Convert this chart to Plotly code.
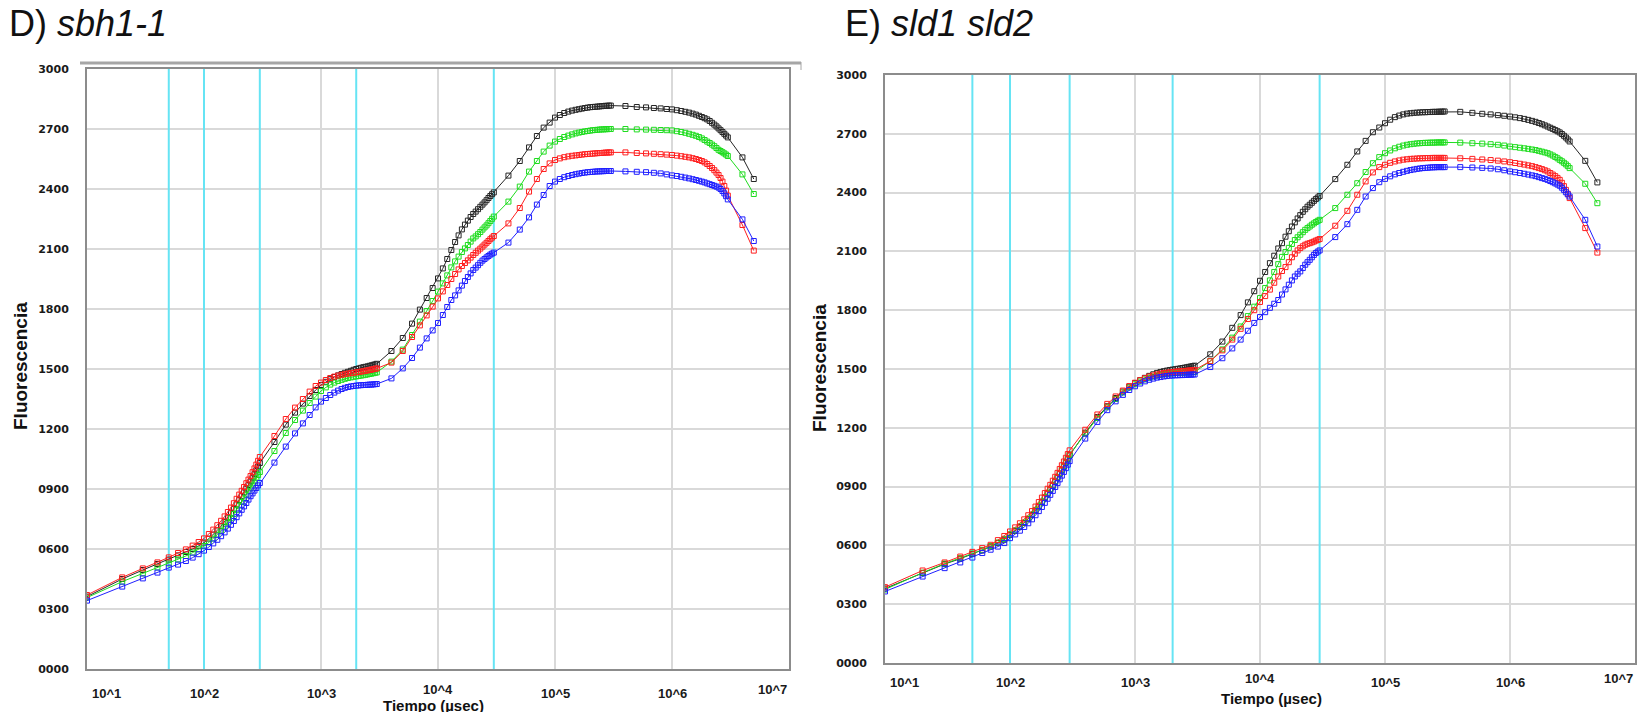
import math
import plotly.graph_objects as go

# ---------------- data ----------------
TIEMPO_US = [10, 20, 30, 40, 50, 60, 70, 80, 90, 100, 110, 120, 130, 140, 150, 160, 170, 180, 190, 200,
             210, 220, 230, 240, 250, 260, 270, 280, 290, 300,
             400, 500, 600, 700, 800, 900, 1000, 1100, 1200, 1300, 1400, 1500, 1600, 1700, 1800, 1900, 2000,
             2100, 2200, 2300, 2400, 2500, 2600, 2700, 2800, 2900, 3000,
             4000, 5000, 6000, 7000, 8000, 9000, 10000, 11000, 12000, 13000, 14000, 15000, 16000, 17000, 18000,
             19000, 20000, 21000, 22000, 23000, 24000, 25000, 26000, 27000, 28000, 29000, 30000,
             40000, 50000, 60000, 70000, 80000, 90000, 100000, 110000, 120000, 130000, 140000, 150000, 160000,
             170000, 180000, 190000, 200000, 210000, 220000, 230000, 240000, 250000, 260000, 270000, 280000,
             290000, 300000,
             400000, 500000, 600000, 700000, 800000, 900000, 1000000, 1100000, 1200000, 1300000, 1400000,
             1500000, 1600000, 1700000, 1800000, 1900000, 2000000, 2100000, 2200000, 2300000, 2400000,
             2500000, 2600000, 2700000, 2800000, 2900000, 3000000,
             4000000, 5000000]

# Panel D) sbh1-1
D_black = [362, 450, 495, 525, 547, 568, 585, 600, 616, 632, 652, 672, 693, 714, 735, 757, 779, 801, 823, 845,
           864, 883, 902, 920, 938, 957, 975, 994, 1012, 1030,
           1135, 1222, 1282, 1327, 1365, 1395, 1420, 1436, 1449, 1460, 1468, 1475, 1481, 1486, 1491, 1496, 1500,
           1503, 1506, 1509, 1511, 1513, 1516, 1518, 1521, 1523, 1526,
           1590, 1655, 1727, 1797, 1855, 1905, 1953, 2003, 2050, 2095, 2135, 2168, 2198, 2222, 2242, 2260, 2275,
           2287, 2299, 2311, 2322, 2333, 2344, 2355, 2365, 2374, 2383,
           2467, 2540, 2608, 2665, 2707, 2732, 2757, 2770, 2780, 2787, 2792, 2796, 2799, 2802, 2805, 2807, 2809,
           2810, 2811, 2812, 2813, 2814, 2815, 2816, 2816, 2817, 2817,
           2815, 2810, 2808, 2805, 2803, 2800, 2798, 2794, 2790, 2786, 2782, 2777, 2772, 2766, 2760, 2754, 2748,
           2740, 2731, 2722, 2713, 2703, 2694, 2685, 2676, 2667, 2658,
           2558, 2450]
D_green = [357, 437, 478, 508, 528, 548, 565, 582, 598, 615, 633, 652, 672, 692, 712, 733, 754, 775, 796, 817,
           835, 853, 871, 889, 906, 922, 938, 954, 970, 985,
           1090, 1180, 1245, 1292, 1330, 1362, 1390, 1408, 1422, 1432, 1440, 1446, 1451, 1455, 1458, 1461, 1463,
           1465, 1467, 1469, 1471, 1473, 1475, 1477, 1479, 1481, 1483,
           1537, 1597, 1670, 1737, 1790, 1840, 1887, 1928, 1968, 2008, 2038, 2062, 2085, 2103, 2120, 2137, 2153,
           2163, 2174, 2185, 2197, 2208, 2218, 2229, 2240, 2251, 2262,
           2337, 2412, 2487, 2540, 2587, 2617, 2637, 2650, 2660, 2667, 2673, 2678, 2682, 2685, 2688, 2690, 2692,
           2694, 2695, 2696, 2697, 2698, 2698, 2699, 2699, 2700, 2700,
           2700, 2698, 2697, 2696, 2695, 2694, 2693, 2689, 2685, 2681, 2676, 2671, 2666, 2660, 2653, 2645, 2637,
           2630, 2622, 2614, 2605, 2596, 2590, 2584, 2578, 2572, 2565,
           2473, 2375]
D_red = [370, 458, 503, 533, 558, 580, 598, 617, 635, 653, 675, 697, 719, 741, 763, 785, 807, 829, 851, 872,
         891, 910, 929, 947, 965, 984, 1003, 1022, 1041, 1060,
         1165, 1250, 1307, 1350, 1387, 1415, 1432, 1445, 1455, 1462, 1467, 1471, 1474, 1477, 1479, 1481, 1483,
         1485, 1487, 1489, 1491, 1493, 1495, 1497, 1499, 1501, 1503,
         1532, 1590, 1660, 1718, 1768, 1812, 1853, 1888, 1920, 1950, 1975, 1998, 2015, 2030, 2043, 2057, 2070,
         2081, 2092, 2102, 2112, 2122, 2131, 2140, 2149, 2157, 2165,
         2228, 2305, 2387, 2450, 2500, 2528, 2545, 2553, 2559, 2563, 2566, 2568, 2570, 2572, 2574, 2575, 2576,
         2577, 2578, 2579, 2580, 2580, 2581, 2582, 2582, 2583, 2583,
         2583, 2580, 2578, 2576, 2574, 2572, 2570, 2567, 2564, 2561, 2558, 2554, 2550, 2545, 2540, 2533, 2525,
         2515, 2505, 2494, 2482, 2470, 2455, 2437, 2415, 2392, 2367,
         2220, 2092]
D_blue = [342, 412, 453, 482, 507, 522, 540, 557, 574, 592, 610, 628, 646, 664, 683, 702, 721, 740, 759, 778,
          796, 813, 830, 847, 864, 878, 892, 905, 918, 930,
          1032, 1112, 1178, 1228, 1270, 1308, 1337, 1355, 1370, 1382, 1392, 1400, 1406, 1410, 1413, 1415, 1417,
          1418, 1419, 1420, 1420, 1421, 1422, 1422, 1423, 1424, 1425,
          1453, 1503, 1555, 1607, 1653, 1693, 1730, 1770, 1810, 1845, 1868, 1893, 1917, 1940, 1960, 1978, 1995,
          2007, 2019, 2031, 2042, 2050, 2058, 2065, 2072, 2077, 2082,
          2132, 2197, 2258, 2322, 2370, 2415, 2437, 2450, 2459, 2465, 2470, 2474, 2477, 2480, 2482, 2484, 2485,
          2486, 2487, 2488, 2488, 2489, 2489, 2490, 2490, 2490, 2490,
          2488, 2486, 2484, 2481, 2478, 2473, 2468, 2465, 2461, 2457, 2453, 2449, 2445, 2441, 2437, 2433, 2428,
          2424, 2420, 2416, 2412, 2407, 2400, 2390, 2378, 2364, 2348,
          2248, 2140]

# Panel E) sld1 sld2
E_black = [380, 459, 505, 532, 556, 574, 594, 612, 629, 654, 674, 694, 714, 734, 755, 777, 799, 821, 843, 865,
           885, 905, 925, 945, 965, 984, 1003, 1022, 1041, 1060,
           1175, 1255, 1310, 1352, 1385, 1410, 1428, 1443, 1455, 1465, 1473, 1480, 1485, 1489, 1492, 1495, 1497,
           1499, 1501, 1503, 1505, 1507, 1509, 1511, 1513, 1515, 1517,
           1575, 1640, 1710, 1775, 1840, 1897, 1950, 1995, 2040, 2078, 2115, 2142, 2175, 2203, 2227, 2248, 2268,
           2285, 2302, 2315, 2328, 2338, 2348, 2358, 2367, 2375, 2383,
           2469, 2542, 2610, 2664, 2708, 2732, 2754, 2772, 2785, 2793, 2799, 2803, 2805, 2807, 2808, 2809, 2810,
           2810, 2811, 2811, 2812, 2812, 2812, 2813, 2813, 2813, 2814,
           2812, 2807, 2802, 2799, 2795, 2792, 2788, 2784, 2780, 2776, 2771, 2766, 2761, 2755, 2749, 2743, 2737,
           2731, 2725, 2719, 2713, 2707, 2699, 2690, 2681, 2671, 2661,
           2562, 2452]
E_green = [375, 461, 507, 535, 559, 577, 597, 615, 633, 657, 677, 697, 717, 737, 758, 780, 802, 824, 846, 868,
           888, 908, 928, 948, 968, 987, 1006, 1025, 1044, 1063,
           1170, 1250, 1305, 1347, 1380, 1405, 1422, 1436, 1447, 1455, 1461, 1466, 1470, 1473, 1475, 1477, 1478,
           1479, 1480, 1481, 1481, 1482, 1483, 1483, 1484, 1484, 1485,
           1540, 1600, 1660, 1717, 1770, 1818, 1862, 1913, 1952, 1995, 2035, 2072, 2097, 2118, 2138, 2158, 2172,
           2185, 2198, 2210, 2219, 2227, 2236, 2243, 2250, 2256, 2261,
           2321, 2389, 2448, 2505, 2550, 2581, 2601, 2615, 2626, 2634, 2640, 2644, 2647, 2649, 2651, 2652, 2653,
           2654, 2654, 2655, 2655, 2655, 2656, 2656, 2656, 2656, 2656,
           2655, 2652, 2650, 2647, 2644, 2640, 2635, 2632, 2629, 2626, 2623, 2620, 2617, 2613, 2609, 2605, 2601,
           2595, 2589, 2582, 2575, 2567, 2560, 2552, 2544, 2535, 2525,
           2445, 2346]
E_red = [387, 472, 513, 543, 567, 586, 603, 627, 648, 671, 692, 713, 733, 754, 775, 798, 821, 844, 867, 889,
         909, 930, 950, 970, 990, 1009, 1028, 1047, 1066, 1085,
         1190, 1268, 1322, 1360, 1390, 1413, 1430, 1443, 1453, 1461, 1467, 1472, 1476, 1479, 1481, 1483, 1485,
         1486, 1487, 1488, 1489, 1490, 1491, 1492, 1493, 1494, 1495,
         1540, 1595, 1650, 1705, 1755, 1800, 1842, 1872, 1905, 1940, 1972, 2000, 2020, 2045, 2070, 2088, 2105,
         2117, 2126, 2134, 2139, 2142, 2146, 2150, 2155, 2159, 2163,
         2231, 2307, 2389, 2457, 2503, 2530, 2542, 2552, 2559, 2564, 2568, 2570, 2572, 2573, 2574, 2575, 2575,
         2576, 2576, 2576, 2577, 2577, 2577, 2577, 2577, 2577, 2577,
         2575, 2572, 2569, 2566, 2563, 2559, 2555, 2551, 2547, 2543, 2539, 2535, 2530, 2525, 2520, 2514, 2508,
         2500, 2492, 2484, 2475, 2465, 2450, 2433, 2414, 2394, 2372,
         2219, 2094]
E_blue = [365, 441, 484, 513, 538, 561, 578, 594, 612, 637, 656, 675, 694, 713, 733, 754, 775, 796, 817, 838,
          858, 878, 898, 918, 937, 956, 975, 994, 1012, 1030,
          1145, 1230, 1290, 1335, 1368, 1393, 1412, 1426, 1437, 1445, 1451, 1456, 1459, 1462, 1464, 1466, 1467,
          1468, 1468, 1469, 1469, 1470, 1470, 1471, 1471, 1472, 1472,
          1510, 1555, 1605, 1650, 1695, 1735, 1765, 1790, 1812, 1833, 1852, 1880, 1906, 1930, 1952, 1972, 1986,
          1998, 2015, 2032, 2045, 2057, 2070, 2082, 2092, 2099, 2105,
          2173, 2239, 2312, 2380, 2423, 2453, 2470, 2483, 2493, 2500, 2506, 2511, 2515, 2518, 2521, 2523, 2525,
          2526, 2527, 2528, 2529, 2529, 2530, 2530, 2530, 2530, 2530,
          2530, 2528, 2526, 2523, 2519, 2514, 2508, 2504, 2500, 2496, 2492, 2488, 2484, 2479, 2474, 2470, 2465,
          2459, 2453, 2447, 2441, 2435, 2425, 2414, 2402, 2391, 2380,
          2261, 2125]

CYAN_TIMES = [50, 100, 300, 2000, 30000]
X_TICKS = [10, 100, 1000, 10000, 100000, 1000000, 10000000]
X_TICKTEXT = ["10^1", "10^2", "10^3", "10^4", "10^5", "10^6", "10^7"]
Y_TICKS = [0, 300, 600, 900, 1200, 1500, 1800, 2100, 2400, 2700, 3000]
Y_TICKTEXT = ["0000", "0300", "0600", "0900", "1200", "1500", "1800", "2100", "2400", "2700", "3000"]
Y_RANGE = [0, 3000]

PANEL_TITLES = ["D) <i>sbh1-1</i>", "E) <i>sld1 sld2</i>"]
Y_TITLE = "Fluorescencia"
X_TITLE = "Tiempo (µsec)"

SERIES_D = [("black", D_black), ("green", D_green), ("red", D_red), ("blue", D_blue)]
SERIES_E = [("black", E_black), ("green", E_green), ("red", E_red), ("blue", E_blue)]

# ---------------- styling / layout ----------------
W, H = 1640, 712
COLORS = {"black": "#262626", "green": "#1fdc1f", "red": "#ff1f1f", "blue": "#1f1fff"}
CYAN = "#66e4f4"


def px(x):
    return x / W


def py(y):
    return 1 - y / H


fig = go.Figure()

for xa, ya, series in (("x", "y", SERIES_D), ("x2", "y2", SERIES_E)):
    # vertical reference markers (50 µs, 100 µs, 300 µs, 2 ms, 30 ms)
    for t in CYAN_TIMES:
        fig.add_trace(go.Scatter(x=[t, t], y=Y_RANGE, mode="lines", xaxis=xa, yaxis=ya,
                                 line=dict(color=CYAN, width=2), hoverinfo="skip", showlegend=False))
    for name, vals in series:
        fig.add_trace(go.Scatter(x=TIEMPO_US, y=vals, mode="lines+markers", xaxis=xa, yaxis=ya,
                                 line=dict(color=COLORS[name], width=1),
                                 marker=dict(symbol="square-open", size=5, color=COLORS[name],
                                             line=dict(width=1, color=COLORS[name])),
                                 showlegend=False))

tick_font_x = dict(family="Liberation Sans", size=13, color="#1a1a1a", weight="bold")
tick_font_y = dict(family="DejaVu Sans", size=11, color="#1a1a1a", weight="bold")

common_x = dict(type="log", range=[1, 7], tickvals=X_TICKS, showticklabels=False, showgrid=True,
                gridcolor="#d9d9d9", gridwidth=2, showline=True, mirror=True, linecolor="#8c8c8c",
                linewidth=2, ticks="", zeroline=False, automargin=False)
common_y = dict(range=Y_RANGE, tickvals=Y_TICKS, ticktext=Y_TICKTEXT, showgrid=True, gridcolor="#d9d9d9",
                gridwidth=2, showline=True, mirror=True, linecolor="#8c8c8c", linewidth=2, ticks="",
                tickfont=tick_font_y, zeroline=False, ticklabelstandoff=14, automargin=False)

# plot-area rectangles (pixels)
L = dict(x0=87, x1=789, y0=69, y1=669)
R = dict(x0=885, x1=1635, y0=75, y1=663)

fig.update_layout(
    width=W, height=H, margin=dict(l=0, r=0, t=0, b=0, autoexpand=False),
    paper_bgcolor="white", plot_bgcolor="white",
    xaxis=dict(common_x, domain=[px(L["x0"]), px(L["x1"])], anchor="y"),
    yaxis=dict(common_y, domain=[py(L["y1"]), py(L["y0"])], anchor="x"),
    xaxis2=dict(common_x, domain=[px(R["x0"]), px(R["x1"])], anchor="y2"),
    yaxis2=dict(common_y, domain=[py(R["y1"]), py(R["y0"])], anchor="x2"),
)

# outer frame line above the left panel
shapes = [
    dict(type="line", xref="paper", yref="paper", x0=px(80), x1=px(801), y0=py(63), y1=py(63),
         line=dict(color="#a6a6a6", width=3)),
    dict(type="line", xref="paper", yref="paper", x0=px(801), x1=px(801), y0=py(62), y1=py(70),
         line=dict(color="#a6a6a6", width=1)),
]
fig.update_layout(shapes=shapes)

title_font = dict(family="Liberation Sans", size=36, color="#111111")
axis_title_font_y = dict(family="Liberation Sans", size=19, color="#111111", weight="bold")
axis_title_font_x = dict(family="Liberation Sans", size=15, color="#111111", weight="bold")

annotations = [
    dict(text=PANEL_TITLES[0], x=px(7), y=py(23), xref="paper", yref="paper", xanchor="left",
         yanchor="middle", showarrow=False, font=title_font),
    dict(text=PANEL_TITLES[1], x=px(843), y=py(23), xref="paper", yref="paper", xanchor="left",
         yanchor="middle", showarrow=False, font=title_font),
    dict(text=Y_TITLE, x=px(20), y=py(366), xref="paper", yref="paper", textangle=-90, xanchor="center",
         yanchor="middle", showarrow=False, font=axis_title_font_y),
    dict(text=Y_TITLE, x=px(819), y=py(368), xref="paper", yref="paper", textangle=-90, xanchor="center",
         yanchor="middle", showarrow=False, font=axis_title_font_y),
    dict(text=X_TITLE, x=px(433), y=py(695), xref="paper", yref="paper", xanchor="center",
         yanchor="top", showarrow=False, font=axis_title_font_x),
    dict(text=X_TITLE, x=px(1271), y=py(698), xref="paper", yref="paper", xanchor="center",
         yanchor="middle", showarrow=False, font=axis_title_font_x),
]

# x tick labels placed on the log axes (first label inside the left edge, last inside the right edge)
for xa, label_y in (("x", 693), ("x2", 682)):
    n = len(X_TICKS)
    for i, (tv, tt) in enumerate(zip(X_TICKS, X_TICKTEXT)):
        anchor = "left" if i == 0 else ("right" if i == n - 1 else "center")
        shift = 3 if i == 0 else 0
        raise_px = 4 if tt in ("10^4", "10^7") else 0
        annotations.append(dict(text=tt, x=math.log10(tv), y=py(label_y - raise_px), xref=xa, yref="paper",
                                xanchor=anchor, yanchor="middle", xshift=shift, showarrow=False,
                                font=tick_font_x))
fig.update_layout(annotations=annotations)

fig.write_html("out.html")
